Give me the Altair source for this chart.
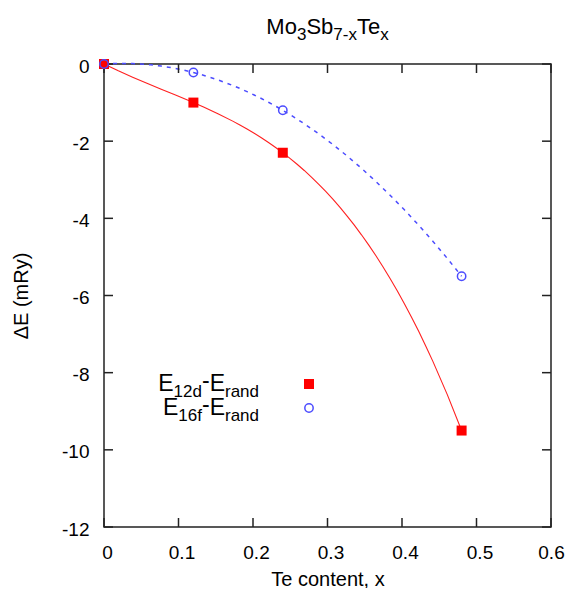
import altair as alt
import pandas as pd

# ---- data ----
te_x = [0.0, 0.12, 0.24, 0.48]
e12d = [0.0, -1.0, -2.3, -9.5]
e16f = [0.0, -0.22, -1.2, -5.5]
x_ticks = [0, 0.1, 0.2, 0.3, 0.4, 0.5, 0.6]
y_ticks = [0, -2, -4, -6, -8, -10, -12]
title_parts = [("Mo", 0), ("3", 1), ("Sb", 0), ("7-x", 1), ("Te", 0), ("x", 1)]
legend_rows = [
    [("E", 0), ("12d", 1), ("-", 0), ("E", 0), ("rand", 1)],
    [("E", 0), ("16f", 1), ("-", 0), ("E", 0), ("rand", 1)],
]

# ---- layout / style ----
W, H = 447, 463
RED = "#ff2020"
BLUE = "#4c4cff"
FRAME = "#222222"
FONT = "Liberation Sans"
TICK = 9

ARIAL = {'M': 833, 'o': 556, 'S': 667, 'b': 556, 'T': 611, 'e': 556, 'E': 667,
         '-': 333, 'x': 500, 'r': 333, 'a': 556, 'n': 556, 'd': 556, 'f': 278}
KERN = {("T", "e"): -111}


def tw(s, size):
    w = sum(ARIAL.get(c, 556) for c in s)
    w += sum(KERN.get((a, b), 0) for a, b in zip(s, s[1:]))
    return w * size / 1000.0


# title fragments (centered)
T_MAIN, T_SUB = 22, 17
t_sizes = [T_SUB if s else T_MAIN for _, s in title_parts]
t_total = sum(tw(t, z) for (t, _), z in zip(title_parts, t_sizes))
cx = W / 2 - t_total / 2
frags = []
for (t, s), z in zip(title_parts, t_sizes):
    frags.append((t, cx, -29.7 + (6 if s else 0), z, "left"))
    cx += tw(t, z)

# legend fragments (right aligned)
L_MAIN, L_SUB = 23, 17
L_RIGHT = 155
L_BASE = [327, 351]
for row, base_y in zip(legend_rows, L_BASE):
    rx = L_RIGHT
    for t, s in reversed(row):
        z = L_SUB if s else L_MAIN
        dy = 6 if s else (-3 if t == "-" else 0)
        frags.append((t, rx, base_y + dy, z, "right"))
        rx -= tw(t, z)

df = pd.DataFrame({"x": te_x, "red": e12d, "blue": e16f})
xt = pd.DataFrame({"t": x_ticks})
yt = pd.DataFrame({"t": y_ticks})
one = pd.DataFrame({"k": [0]})

xscale = alt.Scale(domain=[0, 0.6], nice=False, zero=False)
yscale = alt.Scale(domain=[-12, 0], nice=False, zero=False)

x_axis = alt.Axis(
    values=x_ticks,
    labelExpr="datum.value == 0 ? '0' : format(datum.value, '.1f')",
    ticks=False, tickSize=0, domain=False, grid=False,
    labelPadding=31, labelBaseline="alphabetic", labelFontSize=19, labelFont=FONT,
    labelColor="black",
    labelOffset={"condition": {"test": "datum.value > 0.55", "value": 0}, "value": 3},
    labelFlush=False, labelOverlap=False,
    title="Te content, x", titleFontSize=20, titleFont=FONT, titleFontWeight="normal",
    titleColor="black", titleX=W / 2, titleY=58, titleBaseline="alphabetic",
    titleAlign="center",
)
y_axis = alt.Axis(
    values=y_ticks,
    labelExpr="toString(datum.value)",
    ticks=False, tickSize=0, domain=False, grid=False,
    labelPadding=15, labelAlign="right", labelBaseline="middle", labelFontSize=19,
    labelFont=FONT, labelColor="black", labelOffset=2, labelFlush=False,
    labelOverlap=False,
    title="ΔE (mRy)", titleFontSize=20, titleFont=FONT, titleFontWeight="normal",
    titleColor="black", titleX=-77, titleY=H / 2, titleBaseline="alphabetic",
    titleAlign="center", titleAngle=-90,
)


def X(f):
    return alt.X(f, scale=xscale, axis=x_axis)


def Y(f):
    return alt.Y(f, scale=yscale, axis=y_axis)


base = alt.Chart(df)

red_line = base.transform_regression("x", "red", method="poly", order=3).mark_line(
    color=RED, strokeWidth=1.1
).encode(x=X("x:Q"), y=Y("red:Q"))

blue_line = base.transform_regression("x", "blue", method="poly", order=3).mark_line(
    color=BLUE, strokeWidth=1.5, strokeDash=[4, 5]
).encode(x=X("x:Q"), y=Y("blue:Q"))

tick_style = dict(color=FRAME, strokeWidth=1.5)
bt = alt.Chart(xt).mark_rule(**tick_style).encode(
    x=X("t:Q"), y=alt.value(H), y2=alt.value(H - TICK))
tt = alt.Chart(xt).mark_rule(**tick_style).encode(
    x=X("t:Q"), y=alt.value(0), y2=alt.value(TICK))
lt = alt.Chart(yt).mark_rule(**tick_style).encode(
    y=Y("t:Q"), x=alt.value(0), x2=alt.value(TICK))
rt = alt.Chart(yt).mark_rule(**tick_style).encode(
    y=Y("t:Q"), x=alt.value(W), x2=alt.value(W - TICK))

red_pts = base.mark_square(color="#ff0000", size=100, opacity=1).encode(
    x=X("x:Q"), y=Y("red:Q"))
blue_pts = base.mark_point(shape="circle", filled=False, color=BLUE, size=70,
                           strokeWidth=1.5, opacity=1).encode(
    x=X("x:Q"), y=Y("blue:Q"))

leg_sq = alt.Chart(one).mark_square(color="#ff0000", size=100, opacity=1).encode(
    x=alt.value(205), y=alt.value(320))
leg_ci = alt.Chart(one).mark_point(shape="circle", filled=False, color=BLUE, size=70,
                                   strokeWidth=1.5, opacity=1).encode(
    x=alt.value(205), y=alt.value(344))

text_layers = []
for t, px, py, z, al in frags:
    text_layers.append(
        alt.Chart(one).mark_text(
            text=t, font=FONT, fontSize=z, align=al, baseline="alphabetic", color="black"
        ).encode(x=alt.value(px), y=alt.value(py))
    )

chart = alt.layer(
    red_line, blue_line, bt, tt, lt, rt, red_pts, blue_pts, leg_sq, leg_ci, *text_layers
).properties(
    width=W, height=H,
    autosize=alt.AutoSizeParams(type="none"),
    padding={"left": 96, "top": 56, "right": 14, "bottom": 61},
).configure(
    background="white",
    view=alt.ViewConfig(stroke=FRAME, strokeWidth=1.5),
)

chart.save("out.html", embed_options={"renderer": "svg", "actions": False})
